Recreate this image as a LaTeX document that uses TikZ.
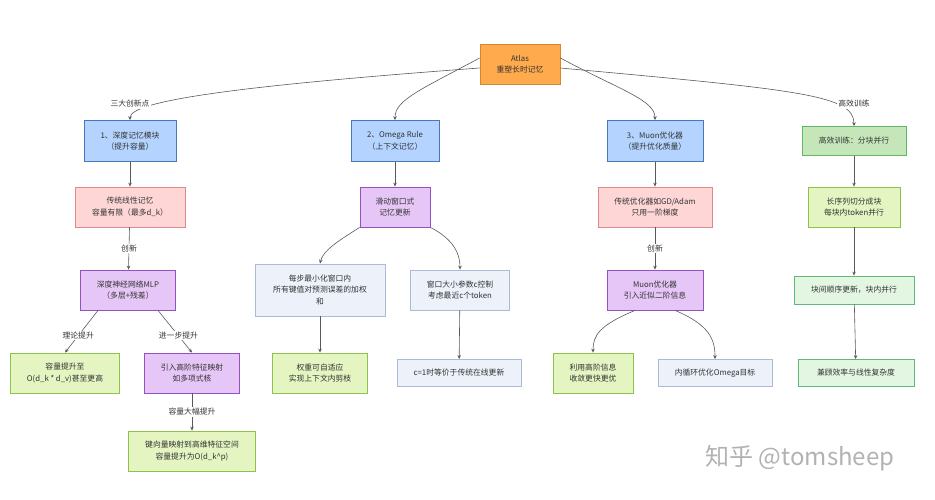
\documentclass[tikz,border=0pt]{standalone}
\usepackage{fontspec}
\setmainfont{Noto Sans CJK SC}
\usetikzlibrary{arrows.meta}
\begin{document}
\begin{tikzpicture}[x=1pt,y=-1pt,
  box/.style={draw,line width=0.8pt,align=center,font=\fontsize{7.8}{11.5}\selectfont,text=black!80,inner sep=2pt},
  blu/.style={box,fill={rgb,255:red,180;green,212;blue,255},draw={rgb,255:red,70;green,120;blue,190}},
  red/.style={box,fill={rgb,255:red,255;green,214;blue,214},draw={rgb,255:red,225;green,135;blue,140}},
  pur/.style={box,fill={rgb,255:red,230;green,198;blue,247},draw={rgb,255:red,150;green,80;blue,195}},
  grn/.style={box,fill={rgb,255:red,228;green,245;blue,193},draw={rgb,255:red,140;green,195;blue,75}},
  gry/.style={box,fill={rgb,255:red,236;green,241;blue,250},draw={rgb,255:red,170;green,188;blue,212}},
  dgr/.style={box,fill={rgb,255:red,196;green,230;blue,185},draw={rgb,255:red,95;green,185;blue,100}},
  lgr/.style={box,fill={rgb,255:red,226;green,246;blue,226},draw={rgb,255:red,95;green,185;blue,120}},
  org/.style={box,fill={rgb,255:red,255;green,170;blue,76},draw={rgb,255:red,215;green,135;blue,40}},
  ar/.style={draw=black!65,line width=0.6pt,-{Stealth[length=4pt,width=3.5pt]}},
  lab/.style={fill=white,font=\fontsize{7.8}{9}\selectfont,text=black!80,inner sep=1pt}]
\useasboundingbox (0,0) rectangle (935,500);
\node[org,minimum width=80,minimum height=40] (A) at (520,64) {Atlas\\重塑长时记忆};
\node[blu,minimum width=92,minimum height=41] (B1) at (130,141) {1、深度记忆模块\\（提升容量）};
\node[blu,minimum width=88,minimum height=41] (B2) at (395,141) {2、Omega Rule\\（上下文记忆）};
\node[blu,minimum width=96,minimum height=41] (B3) at (655,141) {3、Muon优化器\\（提升优化质量）};
\node[dgr,minimum width=104,minimum height=29] (B4) at (854,141) {高效训练：分块并行};
\node[red,minimum width=110,minimum height=40] (R1) at (130,207) {传统线性记忆\\容量有限（最多d\_k）};
\node[pur,minimum width=70,minimum height=40] (S2) at (395,207) {滑动窗口式\\记忆更新};
\node[red,minimum width=114,minimum height=40] (R3) at (655,207) {传统优化器如GD/Adam\\只用一阶梯度};
\node[grn,minimum width=92,minimum height=40] (G4) at (854,207) {长序列切分成块\\每块内token并行};
\node[pur,minimum width=95,minimum height=40] (M1) at (128,290) {深度神经网络MLP\\（多层+残差）};
\node[gry,minimum width=130,minimum height=52] (M2) at (320,290) {每步最小化窗口内\\所有键值对预测误差的加权\\和};
\node[gry,minimum width=99,minimum height=40] (W2) at (460,290) {窗口大小参数c控制\\考虑最近c个token};
\node[pur,minimum width=96,minimum height=40] (M3) at (655,290) {Muon优化器\\引入近似二阶信息};
\node[lgr,minimum width=120,minimum height=28] (G5) at (854,290) {块间顺序更新，块内并行};
\node[grn,minimum width=109,minimum height=40] (C1) at (65,373) {容量提升至\\O(d\_k * d\_v)甚至更高};
\node[pur,minimum width=95,minimum height=40] (H1) at (192,373) {引入高阶特征映射\\如多项式核};
\node[grn,minimum width=95,minimum height=40] (WT) at (320,373) {权重可自适应\\实现上下文内剪枝};
\node[gry,minimum width=124,minimum height=27] (CE) at (459,373) {c=1时等价于传统在线更新};
\node[grn,minimum width=80,minimum height=40] (H3) at (593,373) {利用高阶信息\\收敛更快更优};
\node[gry,minimum width=114,minimum height=27] (IN) at (715,373) {内循环优化Omega目标};
\node[lgr,minimum width=116,minimum height=27] (EF) at (856,373) {兼顾效率与线性复杂度};
\node[grn,minimum width=127,minimum height=40] (K1) at (192,451) {键向量映射到高维特征空间\\容量提升为O(d\_k\^{}p)};
\node[text=black!30,font=\fontsize{24}{24}\selectfont] (WM) at (800,458) {知乎 @tomsheep};
% edges
\draw[ar] ([yshift=-4]A.west) .. controls (250,85) and (130,100) .. (B1.north);
\draw[ar] ([yshift=6]A.west) .. controls (420,90) and (395,100) .. (B2.north);
\draw[ar] ([yshift=6]A.east) .. controls (620,90) and (655,100) .. (B3.north);
\draw[ar] ([yshift=-4]A.east) .. controls (800,90) and (854,95) .. (B4.north);
\node[lab] (L1) at (130,104) {三大创新点};
\node[lab] (L4) at (854,104) {高效训练};
\draw[ar] (B1) -- (R1);
\draw[ar] (B2) -- (S2);
\draw[ar] (B3) -- (R3);
\draw[ar] (B4) -- (G4);
\draw[ar] (R1) -- node[lab] {创新} (M1);
\draw[ar] (R3) -- node[lab] {创新} (M3);
\draw[ar] (G4) -- (G5);
\draw[ar] (S2.south west) .. controls (340,240) and (323,250) .. (M2.north);
\draw[ar] (S2.south east) .. controls (455,240) and (460,255) .. (W2.north);
\draw[ar] (M2) -- (WT);
\draw[ar] (W2) -- (CE);
\draw[ar] (G5) -- (EF);
\draw[ar] ([xshift=-30]M1.south) -- node[lab,pos=0.6] {理论提升} (C1.north);
\draw[ar] ([xshift=30]M1.south) -- node[lab,pos=0.6] {进一步提升} (H1.north);
\draw[ar] (H1) -- node[lab] {容量大幅提升} (K1);
\draw[ar] ([xshift=-20]M3.south) .. controls (600,325) and (593,335) .. (H3.north);
\draw[ar] ([xshift=20]M3.south) .. controls (710,325) and (715,340) .. (IN.north);
\end{tikzpicture}
\end{document}
